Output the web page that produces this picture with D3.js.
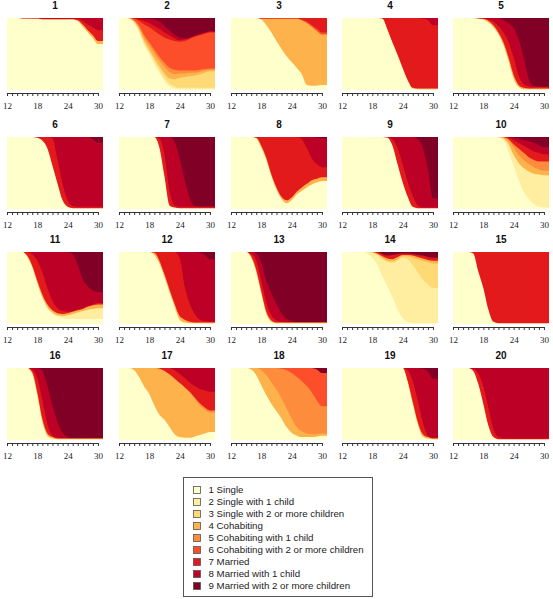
<!DOCTYPE html>
<html><head><meta charset="utf-8">
<script src="https://cdn.jsdelivr.net/npm/d3@7"></script>
<style>body{margin:0;background:#fff}</style>
</head><body>
<script>
const ages = [12,13,14,15,16,17,18,19,20,21,22,23,24,25,26,27,28,29,30];
const tickLabels = [12,18,24,30];
const stateLabels = ["1  Single","2  Single with 1 child","3  Single with 2 or more children","4  Cohabiting","5  Cohabiting with 1 child","6  Cohabiting with 2 or more children","7  Married","8  Married with 1 child","9  Married with 2 or more children"];
const stateColors = ["#FFFFCC","#FFEDA0","#FED976","#FEB24C","#FD8D3C","#FC4E2A","#E31A1C","#BD0026","#800026"];
const panelTitles = ["1","2","3","4","5","6","7","8","9","10","11","12","13","14","15","16","17","18","19","20"];

// each panel: [state, cumulative % (top of that state, from bottom) at each age]; null = fills to 100
const p01 = [[1,[100,100,100,99,99,99,99,98,98,98,98,98,98,98,96,88,80,72,64]],
             [4,[100,100,100,99,99,99,99,98,98,98,98,98,98,98,97,91,83,76,68]],
             [7,[100,100,100,100,100,99,99,99,99,99,99,99,99,99,99,96,91,87,83]],
             [8,null]];
const p02 = [[1,[100,100,99,93,80,62,50,36,24,13,5,2,1,1,1,1,1,1,1]],
             [2,[100,100,99,94,82,65,53,40,28,17,9,5,3,3,3,3,3,3,3]],
             [3,[100,100,99,95,84,68,56,44,33,23,16,15,17,18,19,20,22,24,26]],
             [4,[100,100,100,96,87,72,62,51,41,32,25,22,23,23,24,24,25,27,28]],
             [5,[100,100,100,97,89,76,66,56,46,38,31,28,27,27,27,27,28,29,30]],
             [6,[100,100,100,99,96,91,87,82,77,73,70,68,67,68,71,74,76,78,80]],
             [7,[100,100,100,100,98,96,93,89,85,80,76,72,69,70,72,75,77,79,81]],
             [8,[100,100,100,100,100,99,99,98,95,89,83,77,73,72,73,76,78,80,82]],
             [9,null]];
const p03 = [[1,[100,100,100,100,100,100,98,90,80,68,57,47,39,31,22,7,6,6,7]],
             [4,[100,100,99,99,99,99,99,99,99,99,99,99,99,99,97,93,88,82,77]],
             [6,[100,100,99,99,99,99,99,99,99,99,99,99,99,99,98,95,90,85,80]],
             [7,null]];
const p04 = [[1,[100,100,100,100,100,100,100,100,99,83,65,48,30,13,2,1,1,1,1]],
             [4,[100,100,100,100,100,100,100,100,99,84,66,49,31,14,3,2,2,2,2]],
             [7,[100,100,100,100,100,100,100,100,100,100,100,100,100,100,100,100,99,97,90]],
             [8,null]];
const p05 = [[1,[100,100,100,100,100,99,98,94,87,77,62,40,16,4,1,1,1,1,1]],
             [4,[100,100,100,100,100,99,99,96,90,80,66,45,21,7,3,2,2,2,2]],
             [7,[100,100,100,100,100,100,99,98,95,89,80,66,45,20,8,5,4,4,4]],
             [8,[100,100,100,100,100,100,100,100,100,100,97,93,86,70,45,15,6,5,5]],
             [9,null]];
const p06 = [[1,[100,100,100,100,100,100,99,95,84,60,35,12,3,1,1,1,1,1,1]],
             [7,[100,100,100,100,100,100,100,100,100,98,68,35,12,4,3,3,3,3,3]],
             [8,[100,100,100,100,100,100,100,100,100,100,100,100,100,100,100,100,100,97,92]],
             [9,null]];
const p07 = [[1,[100,100,100,100,100,100,100,100,85,45,5,2,1,1,1,1,1,1,1]],
             [7,[100,100,100,100,100,100,100,100,98,75,25,5,3,3,3,3,3,3,3]],
             [8,[100,100,100,100,100,100,100,100,100,100,100,93,70,40,15,4,3,3,3]],
             [9,null]];
const p08 = [[1,[100,100,100,100,100,98,85,68,45,27,14,8,12,20,25,30,34,37,39]],
             [4,[100,100,100,100,100,99,88,71,48,30,17,12,16,24,30,35,40,42,44]],
             [7,[100,100,100,100,100,100,100,100,100,100,100,100,100,100,97,85,70,62,58]],
             [8,[100,100,100,100,100,100,100,100,100,100,100,100,100,100,100,100,100,99,98]],
             [9,null]];
const p09 = [[1,[100,100,100,100,100,100,100,100,100,99,88,62,37,17,3,1,1,1,1]],
             [7,[100,100,100,100,100,100,100,100,100,100,97,85,62,38,18,5,2,2,2]],
             [8,[100,100,100,100,100,100,100,100,100,100,100,100,100,100,100,97,85,55,15]],
             [9,null]];
const p10 = [[1,[100,100,100,100,100,100,100,100,100,99,95,80,60,40,24,14,7,3,2]],
             [2,[100,100,100,100,100,100,100,100,100,100,98,90,75,64,57,52,49,48,47]],
             [4,[100,100,100,100,100,100,100,100,100,100,99,95,85,75,68,63,58,55,53]],
             [5,[100,100,100,100,100,100,100,100,100,100,100,97,90,84,78,72,68,66,66]],
             [7,[100,100,100,100,100,100,100,100,100,100,100,99,96,92,88,84,80,78,76]],
             [8,[100,100,100,100,100,100,100,100,100,100,100,100,99,98,96,94,92,89,86]],
             [9,null]];
const p11 = [[1,[100,100,100,100,93,78,56,36,22,14,10,8,7,7,7,7,7,7,7]],
             [2,[100,100,100,100,93,78,56,37,23,16,12,11,12,14,16,18,20,21,22]],
             [4,[100,100,100,100,95,81,60,41,27,19,15,14,15,17,19,21,24,26,27]],
             [7,[100,100,100,100,100,97,88,72,50,32,22,18,17,18,20,22,25,27,29]],
             [8,[100,100,100,100,100,100,100,100,100,100,100,100,100,97,82,62,52,47,44]],
             [9,null]];
const p12 = [[1,[100,100,100,100,100,100,100,96,84,65,44,24,6,2,1,1,1,1,1]],
             [4,[100,100,100,100,100,100,100,99,88,69,48,28,11,6,3,2,2,2,2]],
             [7,[100,100,100,100,100,100,100,100,100,100,100,100,92,52,28,14,6,4,3]],
             [8,[100,100,100,100,100,100,100,100,100,100,100,100,100,100,100,100,99,96,90]],
             [9,null]];
const p13 = [[1,[100,100,100,100,92,72,42,14,3,1,1,1,1,1,1,1,1,1,1]],
             [4,[100,100,100,100,94,75,45,17,5,2,2,2,2,2,2,2,2,2,2]],
             [7,[100,100,100,100,98,88,60,30,12,5,3,2,2,2,2,2,2,2,2]],
             [8,[100,100,100,100,100,98,85,60,42,28,15,7,4,2,2,2,2,2,2]],
             [9,null]];
const p14 = [[1,[100,100,100,100,100,98,92,82,66,52,37,20,8,3,1,1,1,1,1]],
             [2,[100,100,100,100,100,100,99,96,90,86,85,88,92,90,82,72,62,55,50]],
             [3,[100,100,100,100,100,100,99,97,92,88,87,90,94,94,92,90,88,86,84]],
             [4,[100,100,100,100,100,100,100,98,94,91,90,93,96,96,95,93,91,89,88]],
             [7,[100,100,100,100,100,100,100,100,97,95,96,97,98,98,97,96,95,93,92]],
             [9,null]];
const p15 = [[1,[100,100,100,100,98,73,50,20,3,1,1,1,1,1,1,1,1,1,1]],
             [7,null]];
const p16 = [[1,[100,100,100,100,100,92,62,25,6,2,1,1,1,1,1,1,1,1,1]],
             [4,[100,100,100,100,100,94,66,29,9,4,2,2,2,2,2,2,2,2,2]],
             [7,[100,100,100,100,100,98,86,55,22,6,3,2,2,2,2,2,2,2,2]],
             [8,[100,100,100,100,100,100,100,96,75,48,25,10,4,2,2,2,2,2,2]],
             [9,null]];
const p17 = [[1,[100,100,100,97,87,74,64,48,35,28,18,8,4,3,3,5,7,9,11]],
             [4,[100,100,100,100,100,100,100,100,99,96,91,85,79,73,66,57,48,42,38]],
             [5,[100,100,100,100,100,100,100,100,99,96,91,85,79,73,67,59,51,45,41]],
             [7,[100,100,100,100,100,100,100,100,100,100,100,97,92,86,80,75,71,69,67]],
             [8,null]];
const p18 = [[1,[100,100,100,100,98,90,76,62,50,40,30,18,10,6,4,4,4,5,6]],
             [4,[100,100,100,100,100,100,97,90,80,70,58,44,30,18,12,9,8,8,9]],
             [5,[100,100,100,100,100,100,100,100,100,100,99,97,93,88,82,75,66,55,47]],
             [6,[100,100,100,100,100,100,100,100,100,100,100,100,100,100,100,100,100,98,93]],
             [9,null]];
const p19 = [[1,[100,100,100,100,100,100,100,100,100,100,100,100,100,80,50,22,5,2,1]],
             [4,[100,100,100,100,100,100,100,100,100,100,100,100,100,82,53,25,8,4,2]],
             [7,[100,100,100,100,100,100,100,100,100,100,100,100,100,97,82,55,25,6,3]],
             [8,[100,100,100,100,100,100,100,100,100,100,100,100,100,100,100,100,99,95,85]],
             [9,null]];
const p20 = [[1,[100,100,100,100,96,78,50,20,4,1,1,1,1,1,1,1,1,1,1]],
             [7,[100,100,100,100,99,92,75,45,15,4,2,2,2,2,2,2,2,2,2]],
             [8,null]];
const panels = [p01,p02,p03,p04,p05,p06,p07,p08,p09,p10,p11,p12,p13,p14,p15,p16,p17,p18,p19,p20];

// layout
const colLeft = [7,119,231,342,453];
const rowTop = [18,137,252,368];
const plotW = 96, plotH = 72;

const svg = d3.select("body").append("svg").attr("width",553).attr("height",599);

panels.forEach((layers, i) => {
  const col = i % 5, row = Math.floor(i / 5);
  const g = svg.append("g").attr("transform", `translate(${colLeft[col]},${rowTop[row]})`);
  const x = d3.scaleLinear().domain([12, 31]).range([0, plotW]);
  const y = d3.scaleLinear().domain([0, 100]).range([plotH, 0]);
  const area = d3.area().x(d => x(d.age)).y0(plotH).y1(d => y(d.v)).curve(d3.curveMonotoneX);
  layers.slice().reverse().forEach(([state, tops]) => {
    const vals = tops || ages.map(() => 100);
    const pts = ages.map((a, j) => ({age: a, v: vals[j]}));
    pts.push({age: 31, v: vals[vals.length - 1]});
    g.append("path").attr("d", area(pts)).attr("fill", stateColors[state - 1]);
  });
  g.append("text").attr("x", plotW / 2).attr("y", -9).attr("text-anchor", "middle")
    .attr("font-family", "Liberation Sans, Arial, sans-serif").attr("font-weight", "bold")
    .attr("font-size", 10).attr("fill", "#111").text(panelTitles[i]);
  const xa = d3.scaleLinear().domain([12, 30]).range([x(12), x(30)]);
  const ax = g.append("g").attr("transform", `translate(0,${plotH + 3})`)
    .call(d3.axisBottom(xa).tickValues(ages).tickSize(3).tickSizeOuter(0).tickPadding(7)
      .tickFormat(d => tickLabels.includes(d) ? d : ""));
  ax.selectAll("path,line").attr("stroke", "#333");
  ax.selectAll("text").attr("font-family", "Liberation Serif, Times New Roman, serif")
    .attr("font-size", 9).attr("fill", "#222");
});

// legend
const lg = svg.append("g").attr("transform", "translate(183.5,477.5)");
lg.append("rect").attr("width", 189).attr("height", 119).attr("fill", "#fff").attr("stroke", "#555");
stateLabels.forEach((lab, k) => {
  const cy = 12.5 + k * 12;
  lg.append("rect").attr("x", 10).attr("y", cy - 3.5).attr("width", 7).attr("height", 7)
    .attr("fill", stateColors[k]).attr("stroke", "#555").attr("stroke-width", 0.8);
  lg.append("text").attr("x", 25).attr("y", cy).attr("dy", "0.36em")
    .attr("font-family", "Liberation Sans, Arial, sans-serif").attr("font-size", 9.7)
    .attr("fill", "#222").text(lab);
});
</script>
</body></html>
